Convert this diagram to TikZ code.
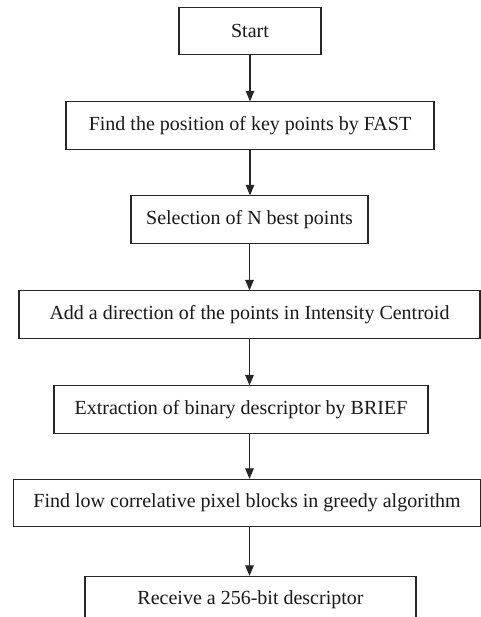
\documentclass[tikz,border=0pt]{standalone}
\usepackage{fontspec}
\setmainfont{Liberation Serif}
\usetikzlibrary{positioning, arrows, arrows.meta}

\begin{document}
\begin{tikzpicture}[
    % Estilos de nodos
    stepbox/.style={
        rectangle, draw=boxgray, fill=white,
        minimum width=#1, minimum height=35.5pt, inner sep=0pt,
        font=\fontsize{15}{18}\selectfont, text=black!90, align=center,
        line width=0.8pt
    },
    flow/.style={
        line width=0.8pt, draw=boxgray
    }
]

% ── Definir colores ──
\definecolor{boxgray}{HTML}{262626}

% marco de la figura (la última caja queda cortada abajo)
\useasboundingbox (0pt,0pt) rectangle (360.75pt,-462.75pt);

% ════════════════════════════════════════
% PASOS del algoritmo ORB
% ════════════════════════════════════════
\node[stepbox=106.5pt]  (start)  at (187.5pt, -23.25pt)     {Start};
\node[stepbox=276pt]    (fast)   at (187.5pt, -94.13pt)     {Find the position of key points by FAST};
\node[stepbox=177.75pt] (best)   at (187.13pt, -164.63pt)   {Selection of N best points};
\node[stepbox=345.75pt] (dir)    at (187.13pt, -235.88pt)   {Add a direction of the points in Intensity Centroid};
\node[stepbox=280.5pt]  (brief)  at (180.75pt, -307.13pt)   {Extraction of binary descriptor by BRIEF};
\node[stepbox=350.25pt] (greedy) at (185.25pt, -377.25pt)   {Find low correlative pixel blocks in greedy algorithm};
\node[stepbox=248.25pt] (recv)   at (187.88pt, -450pt)      {Receive a 256-bit descriptor};

% ════════════════════════════════════════
% FLECHAS entre pasos
% ════════════════════════════════════════
\draw[flow, -triangle 45] (start.south) -- (fast.north -| start.south);
\draw[flow, -triangle 45] (fast.south)  -- (best.north -| fast.south);
\draw[flow, -triangle 45] (best.south)  -- (dir.north -| best.south);
\draw[flow, -triangle 45] (dir.south)   -- (brief.north -| dir.south);
\draw[flow, -triangle 45] (brief.south -| dir.south)  -- (greedy.north -| dir.south);
\draw[flow, -triangle 45] (greedy.south -| dir.south) -- (recv.north -| dir.south);

\end{tikzpicture}
\end{document}
